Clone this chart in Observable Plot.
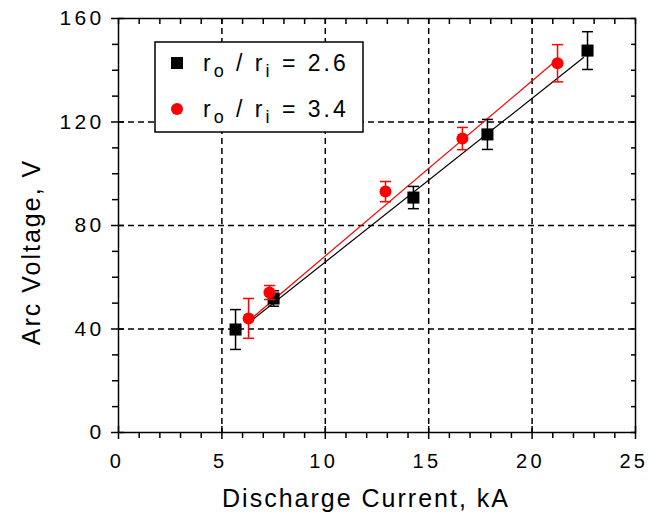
<!DOCTYPE html>
<html><head><meta charset="utf-8">
<script src="https://cdn.jsdelivr.net/npm/d3@7"></script>
<script src="https://cdn.jsdelivr.net/npm/@observablehq/plot@0.6"></script>
<style>
body{margin:0;background:#fff;}
#chart{position:relative;width:648px;height:525px;}
svg text{font-family:"Liberation Sans",Arial,sans-serif;}
.ticklab text{letter-spacing:3.3px;}
</style></head><body><div id="chart"></div>
<script>
// Series r_o/r_i = 2.6 (black squares)
const currentA = [5.66, 7.5, 14.26, 17.84, 22.68];
const voltageA = [39.8, 51.8, 90.8, 115.2, 147.6];
const errorA   = [7.7, 3.0, 4.3, 5.8, 7.3];
// Series r_o/r_i = 3.4 (red circles)
const currentB = [6.29, 7.3, 12.91, 16.63, 21.23];
const voltageB = [44.1, 54.1, 93.1, 113.6, 142.7];
const errorB   = [7.7, 2.7, 3.9, 4.3, 7.2];
// Linear fit lines (endpoints)
const fitAx = [6.24, 22.49], fitAy = [42.1, 144.9];
const fitBx = [6.48, 20.99], fitBy = [44.4, 142.6];
const seriesRatio = ["2.6", "3.4"];
const seriesColor = ["#000000", "#ff0000"];
// Axes
const xMajor = [0, 5, 10, 15, 20, 25];
const xMinor = [1,2,3,4,6,7,8,9,11,12,13,14,16,17,18,19,21,22,23,24];
const yMajor = [0, 40, 80, 120, 160];
const yMinor = [10,20,30,50,60,70,90,100,110,130,140,150];
const xTitle = "Discharge Current, kA";
const yTitle = "Arc Voltage, V";

const mk = (xs, ys, es) => xs.map((x, i) => ({x, y: ys[i], e: es ? es[i] : 0}));
const dataA = mk(currentA, voltageA, errorA);
const dataB = mk(currentB, voltageB, errorB);
const lineA = mk(fitAx, fitAy);
const lineB = mk(fitBx, fitBy);

const capSymbol = {draw(ctx){ ctx.moveTo(-5.5, 0); ctx.lineTo(5.5, 0); }};
const gridInner = (arr, lo, hi) => arr.filter(v => v > lo && v < hi);
const dash = {stroke: "#000", strokeOpacity: 1, strokeWidth: 1.5, strokeDasharray: "6,4"};
const noText = () => "";

function errorMarks(data, color) {
  return [
    Plot.ruleX(data, {x: "x", y1: d => d.y - d.e, y2: d => d.y + d.e, stroke: color, strokeWidth: 1.5}),
    Plot.dot(data, {x: "x", y: d => d.y + d.e, symbol: capSymbol, stroke: color, strokeWidth: 1.5}),
    Plot.dot(data, {x: "x", y: d => d.y - d.e, symbol: capSymbol, stroke: color, strokeWidth: 1.5})
  ];
}

const chart = Plot.plot({
  width: 648, height: 525,
  marginLeft: 118, marginRight: 13, marginTop: 18, marginBottom: 93,
  x: {domain: [0, 25], axis: null},
  y: {domain: [0, 160], axis: null},
  style: {fontFamily: "Liberation Sans, Arial, sans-serif", background: "#fff", color: "#000"},
  marks: [
    Plot.gridX(gridInner(xMajor, 0, 25), dash),
    Plot.gridY(gridInner(yMajor, 0, 160), dash),
    // bottom axis
    Plot.axisX(xMajor, {anchor: "bottom", tickSize: 7, tickPadding: 14, fontSize: 20, label: null, strokeWidth: 1.5, className: "ticklab xlab"}),
    Plot.axisX(xMajor, {anchor: "bottom", tickSize: -6, tickFormat: noText, label: null, strokeWidth: 1.5}),
    Plot.axisX(xMinor, {anchor: "bottom", tickSize: 6, tickFormat: noText, label: null, strokeWidth: 1.5}),
    // top axis (inward)
    Plot.axisX(xMajor.concat(xMinor), {anchor: "top", tickSize: -5, tickFormat: noText, label: null, strokeWidth: 1.5}),
    // left axis
    Plot.axisY(yMajor, {anchor: "left", tickSize: 7, tickPadding: 7, fontSize: 21, label: null, strokeWidth: 1.5, className: "ticklab"}),
    Plot.axisY(yMajor, {anchor: "left", tickSize: -6, tickFormat: noText, label: null, strokeWidth: 1.5}),
    Plot.axisY(yMinor, {anchor: "left", tickSize: 6, tickFormat: noText, label: null, strokeWidth: 1.5}),
    // right axis (inward)
    Plot.axisY(yMajor.concat(yMinor), {anchor: "right", tickSize: -5, tickFormat: noText, label: null, strokeWidth: 1.5}),
    Plot.frame({stroke: "#000", strokeWidth: 1.5}),
    // fit lines
    Plot.line(lineA, {x: "x", y: "y", stroke: seriesColor[0], strokeWidth: 1.2}),
    Plot.line(lineB, {x: "x", y: "y", stroke: seriesColor[1], strokeWidth: 1.2}),
    ...errorMarks(dataA, seriesColor[0]),
    Plot.dot(dataA, {x: "x", y: "y", symbol: "square", r: 6.8, fill: seriesColor[0]}),
    ...errorMarks(dataB, seriesColor[1]),
    Plot.dot(dataB, {x: "x", y: "y", symbol: "circle", r: 6, fill: seriesColor[1]})
  ]
});
document.getElementById("chart").appendChild(chart);

const svg = d3.select(chart);
// compensate trailing letter-spacing on centred x tick labels
svg.selectAll(".xlab text").attr("dx", -1.65);

// Axis titles
svg.append("text").attr("x", 366).attr("y", 507).attr("text-anchor", "middle")
  .style("font-size", "25px").style("letter-spacing", "2px").attr("fill", "#000").text(xTitle);
svg.append("text").attr("transform", "translate(40,252) rotate(-90)").attr("text-anchor", "middle")
  .style("font-size", "25px").style("letter-spacing", "2px").attr("fill", "#000").text(yTitle);

// Legend
const lg = svg.append("g");
lg.append("rect").attr("x", 155).attr("y", 42).attr("width", 208).attr("height", 90)
  .attr("fill", "#fff").attr("stroke", "#000").attr("stroke-width", 1.5);
seriesRatio.forEach((r, i) => {
  const cy = 63 + i * 46;
  if (i === 0) {
    lg.append("rect").attr("x", 171).attr("y", cy - 6).attr("width", 12).attr("height", 12).attr("fill", seriesColor[0]);
  } else {
    lg.append("circle").attr("cx", 177).attr("cy", cy).attr("r", 6).attr("fill", seriesColor[1]);
  }
  const t = lg.append("text").attr("x", 203).attr("y", cy + 8).attr("text-anchor", "start")
    .style("font-size", "23px").style("letter-spacing", "3px").attr("fill", "#000");
  t.append("tspan").text("r");
  t.append("tspan").attr("dy", 6).style("font-size", "18px").text("o");
  t.append("tspan").attr("dy", -6).text(" / r");
  t.append("tspan").attr("dy", 6).style("font-size", "18px").text("i");
  t.append("tspan").attr("dy", -6).text(" = " + r);
});
</script>
</body></html>
